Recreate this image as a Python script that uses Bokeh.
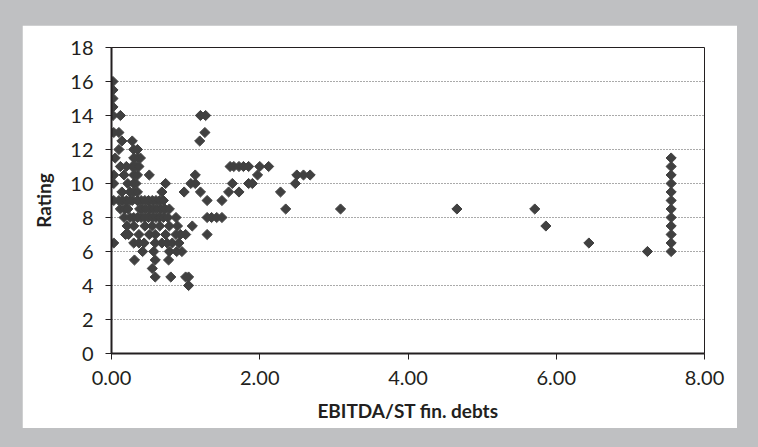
import math
from bokeh.plotting import figure
from bokeh.models import Range1d, FixedTicker, PrintfTickFormatter
from bokeh.embed import file_html
from bokeh.resources import INLINE

# ---- data ----
x_vals = [
    0.02, 0.02, 0.02, 0.02, 0.02, 0.12,
    0.03, 0.10,
    0.14, 0.28,
    0.10, 0.30, 0.35,
    0.05, 0.35, 0.39, 0.30,
    0.12, 0.28, 0.32, 0.20, 0.37,
    0.03, 0.17, 0.30, 0.51, 0.35,
    0.03, 0.30, 0.22, 0.33,
    0.14, 0.30, 0.25, 0.35,
    0.03, 0.10, 0.28, 0.35,
    0.03,
    1.20, 1.27, 1.26, 1.19,
    1.13, 1.07, 1.13, 0.73, 0.68, 0.98, 1.20,
    1.29, 1.49, 1.58, 1.63, 1.72,
    1.60, 1.65, 1.72, 1.78, 1.85, 2.00, 2.12,
    1.97, 1.90, 1.85,
    2.28, 2.48, 2.50, 2.59, 2.68,
    2.35, 3.09, 4.66, 5.71, 5.86, 6.44, 7.23,
    7.55, 7.55, 7.55, 7.55, 7.55, 7.55, 7.55, 7.55, 7.55, 7.55, 7.55, 7.55,
    1.29, 1.35, 1.42, 1.49,
    1.09, 1.29, 0.87,
    0.89, 0.93, 1.00,
    0.95, 0.42, 0.57, 0.78, 0.88,
    0.31, 0.59, 0.77,
    0.55, 0.59, 0.80, 1.00, 1.04, 1.04,
    0.30, 0.37, 0.44, 0.59, 0.68, 0.75, 0.82, 0.91,
    0.19, 0.23, 0.37, 0.51, 0.59, 0.73, 0.87,
    0.21, 0.30, 0.45, 0.55, 0.65, 0.78,
    0.15, 0.20, 0.25, 0.35, 0.40, 0.45, 0.50, 0.55, 0.60, 0.65, 0.70,
    0.12, 0.18, 0.22, 0.38, 0.42, 0.47, 0.52, 0.57, 0.62, 0.67, 0.72, 0.78,
    0.17, 0.25, 0.30, 0.35, 0.40, 0.45, 0.50, 0.55, 0.60, 0.65, 0.70, 0.76,
]
y_vals = [
    16.0, 15.5, 15.0, 14.5, 14.0, 14.0,
    13.0, 13.0,
    12.5, 12.5,
    12.0, 12.0, 12.0,
    11.5, 11.5, 11.5, 11.5,
    11.0, 11.0, 11.0, 11.0, 11.0,
    10.5, 10.5, 10.5, 10.5, 10.5,
    10.0, 10.0, 10.0, 10.0,
    9.5, 9.5, 9.5, 9.5,
    9.0, 9.0, 9.0, 9.0,
    6.5,
    14.0, 14.0, 13.0, 12.5,
    10.5, 10.0, 10.0, 10.0, 9.5, 9.5, 9.5,
    9.0, 9.0, 9.5, 10.0, 9.5,
    11.0, 11.0, 11.0, 11.0, 11.0, 11.0, 11.0,
    10.5, 10.0, 10.0,
    9.5, 10.0, 10.5, 10.5, 10.5,
    8.5, 8.5, 8.5, 8.5, 7.5, 6.5, 6.0,
    6.0, 6.5, 7.0, 7.5, 8.0, 8.5, 9.0, 9.5, 10.0, 10.5, 11.0, 11.5,
    8.0, 8.0, 8.0, 8.0,
    7.5, 7.0, 8.0,
    7.5, 7.0, 7.0,
    6.0, 6.0, 6.0, 6.0, 6.0,
    5.5, 5.5, 5.5,
    5.0, 4.5, 4.5, 4.5, 4.5, 4.0,
    6.5, 6.5, 6.5, 6.5, 6.5, 6.5, 6.5, 6.5,
    7.0, 7.0, 7.0, 7.0, 7.0, 7.0, 7.0,
    7.5, 7.5, 7.5, 7.5, 7.5, 7.5,
    9.0, 9.0, 9.0, 9.0, 9.0, 9.0, 9.0, 9.0, 9.0, 9.0, 9.0,
    8.5, 8.5, 8.5, 8.5, 8.5, 8.5, 8.5, 8.5, 8.5, 8.5, 8.5, 8.5,
    8.0, 8.0, 8.0, 8.0, 8.0, 8.0, 8.0, 8.0, 8.0, 8.0, 8.0, 8.0,
]
x_ticks = [0, 2, 4, 6, 8]
y_ticks = [0, 2, 4, 6, 8, 10, 12, 14, 16, 18]
x_title = "EBITDA/ST fin. debts"
y_title = "Rating"

FONT = "Lato"
TXT = "#231f20"
PAGE_BG = "#bfc0c2"

p = figure(width=715, height=403, output_backend="svg", toolbar_location=None,
           x_range=Range1d(0, 8), y_range=Range1d(0, 18),
           min_border_left=89, min_border_right=33, min_border_top=22, min_border_bottom=75,
           border_fill_color="white", background_fill_color="white")
p.margin = (25, 0, 0, 22)

p.scatter(x_vals, y_vals, marker="square", angle=math.pi / 4, size=7.2,
          fill_color="#404040", line_color="#404040")

p.outline_line_color = TXT
p.outline_line_width = 1

p.xgrid.visible = False
p.ygrid.ticker = FixedTicker(ticks=y_ticks)
p.ygrid.grid_line_color = "#555555"
p.ygrid.grid_line_dash = "1 2"
p.ygrid.grid_line_width = 1

for ax in (p.xaxis[0], p.yaxis[0]):
    ax.axis_line_color = TXT
    ax.axis_line_width = 2
    ax.major_tick_line_color = TXT
    ax.major_tick_line_width = 1
    ax.major_tick_in = 0
    ax.major_tick_out = 6
    ax.minor_tick_line_color = None
    ax.major_label_text_font = FONT
    ax.major_label_text_font_size = "20px"
    ax.major_label_text_color = TXT
    ax.axis_label_text_font = FONT
    ax.axis_label_text_font_size = "19px"
    ax.axis_label_text_font_style = "bold"
    ax.axis_label_text_color = TXT

p.xaxis[0].ticker = FixedTicker(ticks=x_ticks)
p.xaxis[0].formatter = PrintfTickFormatter(format="%.2f")
p.xaxis[0].axis_label = x_title
p.xaxis[0].major_label_standoff = 11
p.xaxis[0].axis_label_standoff = 11

p.yaxis[0].ticker = FixedTicker(ticks=y_ticks)
p.yaxis[0].axis_label = y_title
p.yaxis[0].major_label_standoff = 12
p.yaxis[0].axis_label_standoff = 12

html = file_html(p, INLINE)
css = ("<style>html, body { margin: 0 !important; padding: 0 !important; "
       "background-color: %s !important; }</style>" % PAGE_BG)
html = html.replace("</head>", css + "</head>", 1)
open("out.html", "w").write(html)
